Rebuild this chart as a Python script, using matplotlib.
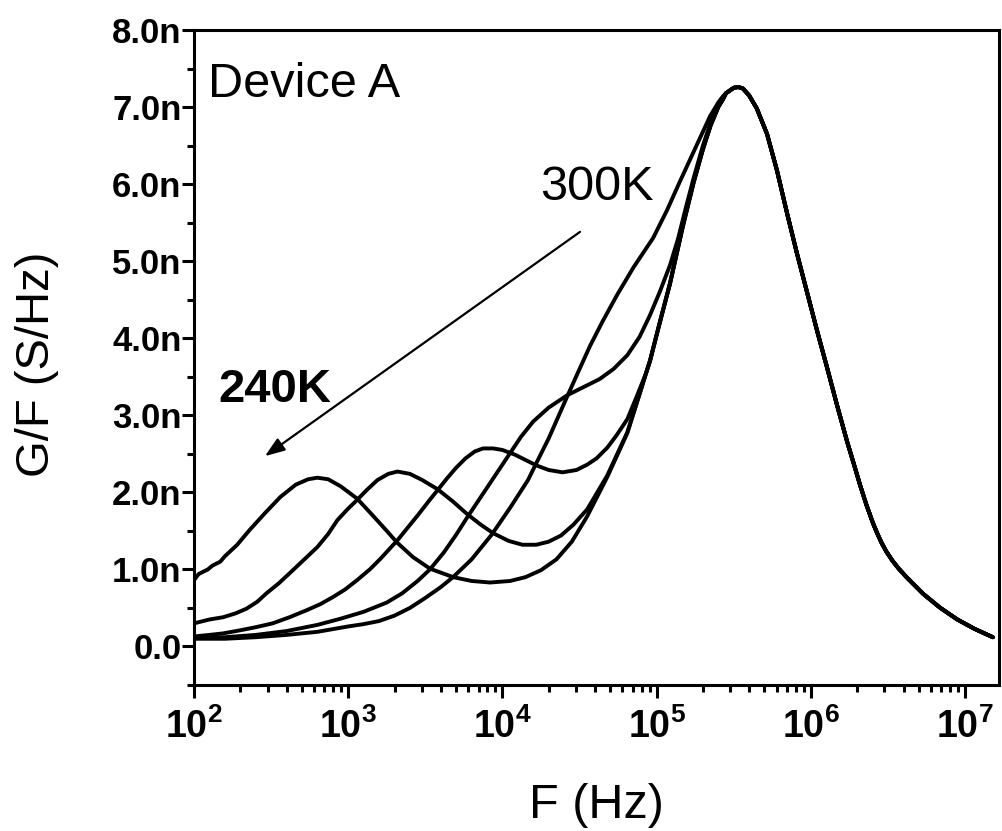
import numpy as np
import matplotlib
matplotlib.use('Agg')
import matplotlib.pyplot as plt
from matplotlib.ticker import FixedLocator, LogLocator, NullFormatter

plt.rcParams['font.family'] = ['Liberation Sans', 'DejaVu Sans']
plt.rcParams['mathtext.fontset'] = 'custom'
plt.rcParams['mathtext.rm'] = 'Liberation Sans'
plt.rcParams['mathtext.bf'] = 'Liberation Sans:bold'

# G/F spectra (nS/Hz) versus log10(F), one list per temperature.
# The low-frequency trap peak moves to lower F as T drops from 300K to 240K.
logf_240 = [2.00, 2.03, 2.06, 2.09, 2.12, 2.14, 2.17, 2.20, 2.28, 2.36, 2.46, 2.56,
            2.66, 2.74, 2.80, 2.87, 2.95, 3.057, 3.15, 3.25, 3.316, 3.42, 3.53,
            3.68, 3.80, 3.92, 4.05, 4.15, 4.25, 4.35, 4.45, 4.55, 4.68, 4.81,
            4.89, 4.957, 5.02, 5.087, 5.17, 5.24, 5.30, 5.35, 5.40, 5.43]
g_240 = [0.86, 0.94, 0.97, 1.00, 1.05, 1.07, 1.10, 1.17, 1.32, 1.51, 1.73, 1.94,
         2.10, 2.17, 2.19, 2.17, 2.08, 1.92, 1.72, 1.50, 1.35, 1.16, 1.01,
         0.90, 0.85, 0.83, 0.85, 0.90, 0.99, 1.13, 1.36, 1.69, 2.20, 2.77,
         3.28, 3.71, 4.20, 4.71, 5.45, 6.02, 6.45, 6.76, 7.00, 7.10]

logf_255 = [2.00, 2.10, 2.19, 2.27, 2.34, 2.41, 2.47, 2.55, 2.62, 2.71, 2.80, 2.87,
            2.93, 3.00, 3.057, 3.12, 3.19, 3.26, 3.32, 3.40, 3.48, 3.58, 3.68,
            3.77, 3.86, 3.94, 4.04, 4.13, 4.22, 4.30, 4.38, 4.46, 4.55, 4.68,
            4.81, 4.89, 4.957, 5.02, 5.087, 5.17, 5.24, 5.30, 5.35, 5.40, 5.43]
g_255 = [0.30, 0.35, 0.38, 0.43, 0.49, 0.58, 0.69, 0.82, 0.95, 1.12, 1.29, 1.46,
         1.64, 1.79, 1.90, 2.03, 2.16, 2.24, 2.27, 2.24, 2.16, 2.04, 1.88,
         1.72, 1.58, 1.47, 1.37, 1.32, 1.32, 1.36, 1.44, 1.58, 1.78, 2.22,
         2.78, 3.28, 3.71, 4.20, 4.71, 5.45, 6.02, 6.45, 6.76, 7.00, 7.10]

logf_270 = [2.00, 2.10, 2.19, 2.30, 2.40, 2.51, 2.62, 2.73, 2.82, 2.90, 2.98, 3.057,
            3.14, 3.21, 3.32, 3.45, 3.52, 3.58, 3.64, 3.70, 3.76, 3.82, 3.874,
            3.94, 4.00, 4.08, 4.15, 4.22, 4.30, 4.39, 4.48, 4.55, 4.61, 4.68,
            4.74, 4.81, 4.87, 4.93, 4.957, 5.02, 5.087, 5.17, 5.24, 5.30, 5.35,
            5.40, 5.43]
g_270 = [0.13, 0.15, 0.17, 0.21, 0.25, 0.30, 0.38, 0.47, 0.55, 0.64, 0.74, 0.86,
         1.00, 1.14, 1.38, 1.70, 1.88, 2.03, 2.18, 2.32, 2.44, 2.53, 2.57,
         2.57, 2.55, 2.49, 2.42, 2.35, 2.29, 2.26, 2.29, 2.36, 2.44, 2.58,
         2.74, 2.95, 3.24, 3.54, 3.70, 4.20, 4.72, 5.47, 6.04, 6.46, 6.77,
         7.01, 7.10]

logf_285 = [2.00, 2.20, 2.40, 2.60, 2.80, 2.95, 3.10, 3.25, 3.35, 3.45, 3.53, 3.62,
            3.70, 3.77, 3.85, 3.94, 4.03, 4.12, 4.20, 4.30, 4.42, 4.52, 4.63,
            4.72, 4.81, 4.89, 4.957, 5.02, 5.087, 5.14, 5.19, 5.24, 5.30, 5.35,
            5.40, 5.43]
g_285 = [0.11, 0.12, 0.15, 0.20, 0.28, 0.36, 0.45, 0.57, 0.69, 0.85, 1.00, 1.22,
         1.45, 1.67, 1.91, 2.18, 2.45, 2.72, 2.92, 3.10, 3.26, 3.36, 3.47,
         3.60, 3.78, 4.02, 4.30, 4.60, 4.95, 5.30, 5.70, 6.08, 6.50, 6.80,
         7.02, 7.11]

logf_300 = [2.00, 2.20, 2.40, 2.60, 2.80, 3.00, 3.10, 3.20, 3.30, 3.40, 3.50, 3.60,
            3.68, 3.80, 3.93, 4.05, 4.166, 4.22, 4.30, 4.419, 4.50, 4.568, 4.65,
            4.743, 4.85, 4.977, 5.067, 5.15, 5.24, 5.30, 5.346, 5.40, 5.43]
g_300 = [0.10, 0.10, 0.12, 0.15, 0.19, 0.26, 0.29, 0.33, 0.40, 0.50, 0.63, 0.77,
         0.90, 1.13, 1.45, 1.80, 2.16, 2.38, 2.70, 3.24, 3.60, 3.90, 4.22,
         4.56, 4.92, 5.30, 5.66, 6.03, 6.42, 6.68, 6.88, 7.06, 7.14]

# main peak and high-frequency tail, common to all temperatures
logf_peak = [5.45, 5.50, 5.53, 5.56, 5.60, 5.65, 5.716, 5.78, 5.846, 5.91, 5.975,
             6.04, 6.105, 6.17, 6.235, 6.28, 6.32, 6.36, 6.403, 6.43, 6.46, 6.49,
             6.53, 6.57, 6.62, 6.73, 6.84, 6.95, 7.06, 7.18]
g_peak = [7.18, 7.25, 7.26, 7.24, 7.15, 6.98, 6.65, 6.18, 5.62, 5.10, 4.60,
          4.10, 3.62, 3.13, 2.66, 2.36, 2.09, 1.84, 1.60, 1.47, 1.34, 1.23,
          1.11, 1.01, 0.90, 0.68, 0.50, 0.35, 0.23, 0.12]

y_ticks = [0, 1, 2, 3, 4, 5, 6, 7, 8]
y_tick_labels = ['0.0', '1.0n', '2.0n', '3.0n', '4.0n', '5.0n', '6.0n', '7.0n', '8.0n']
y_minor = [-0.5, 0.5, 1.5, 2.5, 3.5, 4.5, 5.5, 6.5, 7.5]
x_ticks = [1e2, 1e3, 1e4, 1e5, 1e6, 1e7]
x_tick_labels = [r'$\mathbf{10^{2}}$', r'$\mathbf{10^{3}}$', r'$\mathbf{10^{4}}$',
                 r'$\mathbf{10^{5}}$', r'$\mathbf{10^{6}}$', r'$\mathbf{10^{7}}$']

curves = [(logf_240, g_240), (logf_255, g_255), (logf_270, g_270),
          (logf_285, g_285), (logf_300, g_300)]

fig = plt.figure(figsize=(10.02, 8.31), dpi=100)
ax = fig.add_axes([194 / 1002, 146 / 831, 805 / 1002, 655 / 831])

for logf, g in curves:
    f = 10 ** np.array(logf + logf_peak)
    ax.plot(f, g + g_peak, color='k', lw=2.8,
            solid_joinstyle='round', solid_capstyle='round')

ax.set_xscale('log')
ax.set_xlim(100, 1.66e7)
ax.set_ylim(-0.5, 8.0)

ax.set_xticks(x_ticks)
ax.set_xticklabels(x_tick_labels)
ax.xaxis.set_minor_locator(LogLocator(base=10, subs=np.arange(2, 10)))
ax.xaxis.set_minor_formatter(NullFormatter())
ax.set_yticks(y_ticks)
ax.set_yticklabels(y_tick_labels, fontweight='bold')
ax.yaxis.set_minor_locator(FixedLocator(y_minor))

ax.tick_params(which='both', direction='out', width=2.2, top=False, right=False)
ax.tick_params(which='major', length=9)
ax.tick_params(which='minor', length=5)
ax.tick_params(axis='x', labelsize=27, pad=8)
ax.tick_params(axis='y', labelsize=25, pad=0)
for sp in ax.spines.values():
    sp.set_linewidth(2.2)

ax.set_xlabel('F (Hz)', fontsize=35, va='baseline')
ax.xaxis.set_label_coords(0.5, (685 - 818) / 655)
ax.set_ylabel('G/F (S/Hz)', fontsize=34, va='center')
ax.yaxis.set_label_coords((37 - 194) / 805, 0.49)

ax.text(0.0174, 0.898, 'Device A', transform=ax.transAxes, fontsize=35,
        ha='left', va='baseline')
ax.text(10 ** 4.244, 5.79, '300K', fontsize=35, ha='left', va='baseline')
ax.text(10 ** 2.156, 3.17, '240K', fontsize=34, fontweight='bold',
        ha='left', va='baseline')
ax.annotate('', xy=(10 ** 2.46, 2.47), xytext=(10 ** 4.503, 5.38),
            arrowprops=dict(arrowstyle='-|>,head_length=0.6,head_width=0.22',
                            color='k', lw=1.6, mutation_scale=20,
                            shrinkA=0, shrinkB=0))

fig.savefig('out.png', dpi=100)
